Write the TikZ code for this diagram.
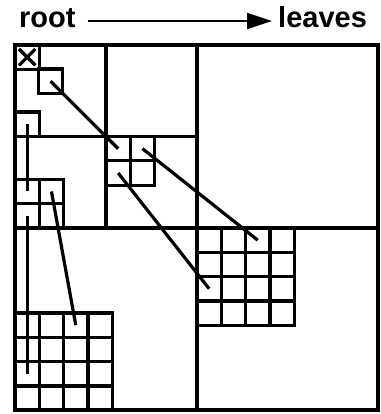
\documentclass[tikz,border=0pt]{standalone}
\usepackage{fontspec}
\setmainfont{Liberation Sans}
\usetikzlibrary{arrows.meta,calc}
\begin{document}
\begin{tikzpicture}[x=1pt,y=-1pt,
  frame/.style={line width=3.2pt},
  cell/.style={draw, line width=3.2pt, minimum size=24.3pt, inner sep=0pt, outer sep=0pt},
  link/.style={line width=3.2pt},
  title/.style={font=\fontsize{29}{31}\selectfont\bfseries, inner sep=0pt, text height=13pt, text depth=0pt, anchor=base west},
  flow/.style={line width=2pt, -{Triangle[length=25pt,width=16pt]}}]
\useasboundingbox (0,0) rectangle (380,414);
% heading
\node[title] (root) at (19,27.5) {root};
\node[title] (leaves) at (278,27.5) {leaves};
\draw[flow, shorten <=12pt, shorten >=6pt] (root) -- (leaves);
% quadtree frame
\draw[frame] (15,45) rectangle (378,410);
\draw[frame] (197,45) -- (197,410);
\draw[frame] (15,228) -- (378,228);
\draw[frame] (106,45) -- (106,228);
\draw[frame] (15,136.5) -- (197,136.5);
% single cells
\node[cell] (xcell) at (27.15,57.15) {};
\draw[link] ($(xcell.north west)+(4pt,-4pt)$) -- ($(xcell.south east)+(-4pt,4pt)$);
\draw[link] ($(xcell.north east)+(-4pt,-4pt)$) -- ($(xcell.south west)+(4pt,4pt)$);
\node[cell] (sq2) at (50.6,81.2) {};
\node[cell] (sq3) at (27.15,124.2) {};
% 2x2 grids
\foreach \i in {0,1} \foreach \j in {0,1} {
  \node[cell] (mid-\i-\j) at (106+12.15+\i*24.3,136.5+12.15+\j*24.3) {};
  \node[cell] (lft-\i-\j) at (15+12.15+\i*24.3,179.3+12.15+\j*24.3) {};
}
% 4x4 grids
\foreach \i in {0,...,3} \foreach \j in {0,...,3} {
  \node[cell] (br-\i-\j) at (197+12.15+\i*24.3,228+12.15+\j*24.3) {};
  \node[cell] (bl-\i-\j) at (15+12.15+\i*24.3,313+12.15+\j*24.3) {};
}
% links
\draw[link] (sq2.center) -- (mid-0-0.center);
\draw[link] (mid-1-0.center) -- (br-2-0.center);
\draw[link] (mid-0-1.center) -- (br-0-2.center);
\draw[link] (sq3.center) -- (lft-0-0.center);
\draw[link] (lft-0-1.center) -- (bl-0-2.center);
\draw[link] (lft-1-0.center) -- (bl-2-0.center);
\end{tikzpicture}
\end{document}
